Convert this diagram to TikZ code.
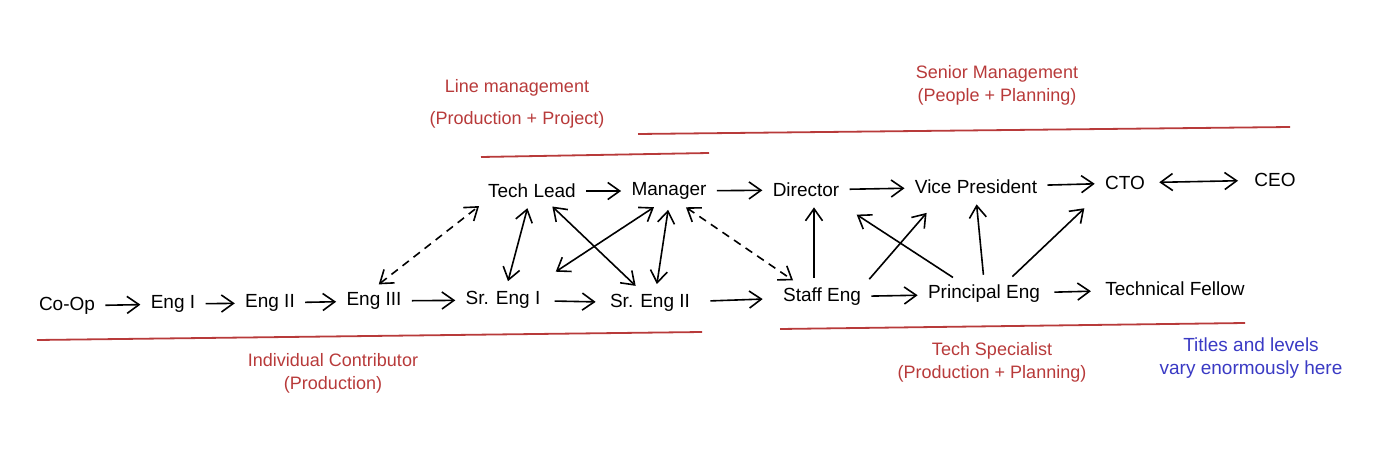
\documentclass[tikz,border=0pt]{standalone}
\usepackage{fontspec}
\setmainfont{Liberation Sans}
\usetikzlibrary{arrows.meta}
\definecolor{bandred}{RGB}{184,58,58}
\definecolor{noteblue}{RGB}{58,58,196}

\begin{document}
\begin{tikzpicture}[x=0.5pt, y=-0.5pt, >={Straight Barb[length=6pt,width=8.5pt]},
    role/.style={inner sep=2pt, font=\fontsize{9.5}{11}\selectfont},
    group/.style={text=bandred, align=center, font=\fontsize{9}{11.5}\selectfont},
    note/.style={text=noteblue, align=center, font=\fontsize{9.5}{11.5}\selectfont},
    band/.style={draw=bandred, line width=0.9pt},
    link/.style={line width=0.8pt, shorten >=3pt, shorten <=3pt}]
    \useasboundingbox (0,0) rectangle (1386,460);

    \node[role] (coop) at (67,306) {Co-Op};
    \node[role] (e1) at (173,304) {Eng I};
    \node[role] (e2) at (270,303) {Eng II};
    \node[role] (e3) at (374,301) {Eng III};
    \node[role] (s1) at (503,300) {Sr. Eng I};
    \node[role] (s2) at (650,303) {Sr. Eng II};
    \node[role] (st) at (822,297) {Staff Eng};
    \node[role] (pe) at (984,294) {Principal Eng};
    \node[role] (tf) at (1175,289) {Technical Fellow};

    \node[role] (tl) at (532,191) {Tech Lead};
    \node[role] (m) at (669,191) {Manager};
    \node[role] (d) at (806,190) {Director};
    \node[role] (vp) at (976,187) {Vice President};
    \node[role] (cto) at (1125,183) {CTO};
    \node[role] (ceo) at (1275,180) {CEO};

    \path[->, link]
    (coop) edge (e1)
    (e1) edge (e2)
    (e2) edge (e3)
    (e3) edge (s1)
    (s1) edge [shorten >=5pt, shorten <=5pt] (s2)
    (s2) edge [shorten >=8pt, shorten <=8pt] (st)
    (st) edge (pe)
    (pe) edge [shorten >=5pt, shorten <=5pt] (tf);

    \path[->, link]
    (tl) edge (m)
    (m) edge (d)
    (d) edge (vp)
    (vp) edge (cto)
    (cto) edge [<->, shorten >=6pt, shorten <=5pt] (ceo);

    \path[<->, link]
    (tl) edge (s1)
    ([xshift=8pt]tl.south) edge ([xshift=-5pt]s2.north)
    ([xshift=-5pt]m.south) edge ([shift={(3pt,6pt)}]s1.north east)
    (m.south) edge ([xshift=3pt]s2.north);

    \path[<->, link, dash pattern=on 4pt off 3pt]
    (e3.north) edge (tl.south west)
    ([xshift=6pt]m.south) edge ([xshift=-12pt]st.north);

    \path[->, link]
    ([xshift=-4pt]st.north) edge ([xshift=4pt]d.south)
    (st.north east) edge ([shift={(10pt,-5pt)}]vp.south west)
    ([xshift=-13pt]pe.north) edge ([shift={(4pt,-5pt)}]d.south east)
    (pe.north) edge (vp.south)
    ([xshift=12pt]pe.north) edge ([shift={(-6pt,-5pt)}]cto.south west);

    \draw[band] (481,157) -- (709,153);
    \draw[band] (638,134) -- (1290,127);
    \draw[band] (37,340) -- (702,332);
    \draw[band] (780,329) -- (1245,323);

    \node[group] (linemgmt) at (517,104) {Line management\\[4.5pt](Production + Project)};
    \node[group] (senior) at (997,85) {Senior Management\\(People + Planning)};
    \node[group] (ic) at (333,373) {Individual Contributor\\(Production)};
    \node[group] (spec) at (992,362) {Tech Specialist\\(Production + Planning)};
    \node[note] (vary) at (1251,358) {Titles and levels\\vary enormously here};
\end{tikzpicture}
\end{document}
